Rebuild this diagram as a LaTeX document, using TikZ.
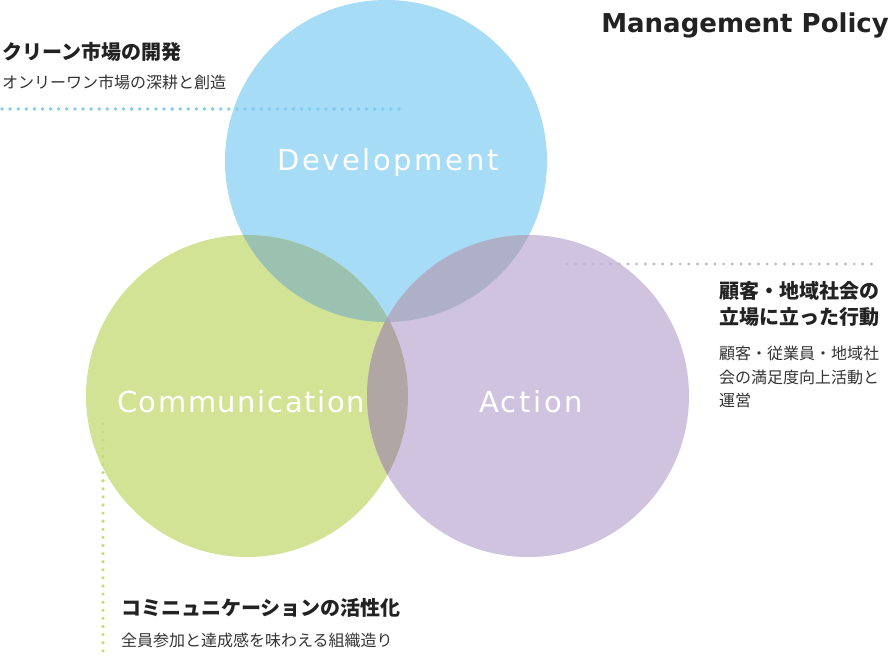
\documentclass[tikz,border=0pt]{standalone}
\usepackage{fontspec}
\setmainfont{DejaVu Sans}
\newfontfamily\jp{Noto Sans CJK JP}
\newfontfamily\lbl{DejaVu Sans}[LetterSpace=9]
\newfontfamily\lblnarrow{DejaVu Sans}[LetterSpace=5.5]
\definecolor{cblue}{HTML}{A6DCF5}
\definecolor{cgreen}{HTML}{D3E396}
\definecolor{cpurple}{HTML}{D0C3E0}
\definecolor{obg}{HTML}{9BC1B0}
\definecolor{obp}{HTML}{AEB0C8}
\definecolor{ogp}{HTML}{B0A6A4}
\definecolor{otri}{HTML}{A6A8B4}
\definecolor{dblue}{HTML}{7FCDF0}
\definecolor{dpurple}{HTML}{C2B3DA}
\definecolor{dgreen}{HTML}{C6DA80}
\definecolor{ink}{HTML}{222222}
\definecolor{ink2}{HTML}{333333}
\tikzset{
  circlabel/.style={text=white, inner sep=0pt, anchor=base, font=\lbl\fontsize{29}{34}\selectfont},
  jptitle/.style={text=ink, inner sep=0pt, anchor=base west, font=\jp\bfseries\fontsize{20}{25}\selectfont},
  jpbody/.style={text=ink2, inner sep=0pt, anchor=base west, font=\jp\fontsize{16}{24}\selectfont},
  dots/.style={line width=3.8pt, line cap=round, dash pattern=on 0pt off 8.1pt},
}
\begin{document}
\begin{tikzpicture}[x=1pt,y=-1pt]
\useasboundingbox (0,0) rectangle (890,655);
\coordinate (dev) at (386,161);
\coordinate (com) at (247,396);
\coordinate (act) at (528,396);
\def\R{161pt}
% circles
\fill[cblue] (dev) circle[radius=\R];
\fill[cgreen] (com) circle[radius=\R];
\fill[cpurple] (act) circle[radius=\R];
% overlaps
\begin{scope}
  \clip (dev) circle[radius=\R];
  \fill[obg] (com) circle[radius=\R];
\end{scope}
\begin{scope}
  \clip (dev) circle[radius=\R];
  \fill[obp] (act) circle[radius=\R];
\end{scope}
\begin{scope}
  \clip (com) circle[radius=\R];
  \fill[ogp] (act) circle[radius=\R];
\end{scope}
\begin{scope}
  \clip (dev) circle[radius=\R];
  \clip (com) circle[radius=\R];
  \fill[otri] (act) circle[radius=\R];
\end{scope}
% dotted leader lines
\coordinate (b1) at (2,109);
\coordinate (b2) at (402,109);
\coordinate (p1) at (567,264);
\coordinate (p2) at (880,264);
\coordinate (g1) at (103,424);
\coordinate (g2) at (103,652);
\draw[dots, dblue] (b1) -- (b2);
\draw[dots, dpurple, line width=3.2pt, dash pattern=on 0pt off 8.7pt] (p1) -- (p2);
\draw[dots, dgreen, line width=3.6pt] (g1) -- (g2);
% circle labels
\node[circlabel] (tdev) at (388,170) {Development};
\node[circlabel, font=\lblnarrow\fontsize{29}{34}\selectfont] (tcom) at (241,412) {Communication};
\node[circlabel] (tact) at (531,412) {Action};
% title
\node[text=ink, inner sep=0pt, anchor=base east, font=\bfseries\fontsize{26}{30}\selectfont] (title) at (889,33) {Management Policy};
% texts
\node[jptitle] (dt) at (2,59.6) {クリーン市場の開発};
\node[jpbody] (db) at (2,89) {オンリーワン市場の深耕と創造};
\node[jptitle] (at1) at (719,298.6) {顧客・地域社会の};
\node[jptitle] (at2) at (719,324) {立場に立った行動};
\node[jpbody] (ab1) at (719,359) {顧客・従業員・地域社};
\node[jpbody] (ab2) at (719,383) {会の満足度向上活動と};
\node[jpbody] (ab3) at (719,406.5) {運営};
\node[jptitle] (ct) at (121,615.6) {コミニュニケーションの活性化};
\node[jpbody] (cb) at (121,646) {全員参加と達成感を味わえる組織造り};
\end{tikzpicture}
\end{document}
